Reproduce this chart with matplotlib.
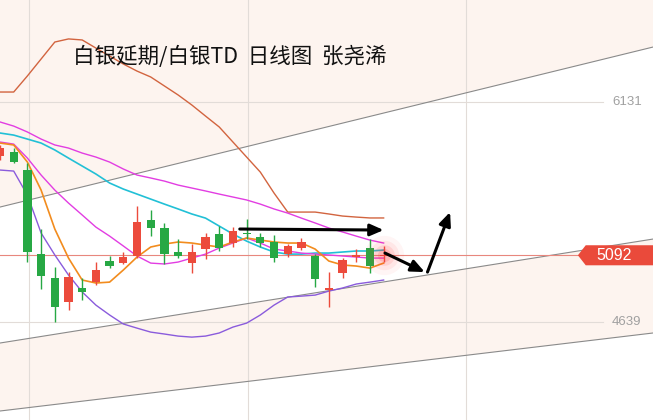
import matplotlib
matplotlib.use("Agg")
import matplotlib.pyplot as plt
from matplotlib.patches import Polygon
from matplotlib.transforms import blended_transform_factory

plt.rcParams['font.family'] = ['Noto Sans CJK SC', 'DejaVu Sans']

TITLE = "白银延期/白银TD  日线图  张尧浠"

# daily candles (price)
opens = [5765, 5792, 5670, 5100, 4938, 4775, 4870, 4910, 5053, 5039,
         5087, 5331, 5277, 5114, 5039, 5134, 5236, 5175, 5243, 5216,
         5182, 5100, 5141, 5087, 4856, 4972, 5080, 5141, 5085]
closes = [5819, 5724, 5114, 4951, 4741, 4944, 4843, 4992, 5019, 5080,
          5317, 5277, 5100, 5087, 5114, 5216, 5141, 5256, 5236, 5175,
          5073, 5155, 5182, 4931, 4870, 5060, 5094, 5019, 5092]
highs = [5840, 5819, 5718, 5270, 5012, 4978, 4938, 5046, 5087, 5114,
         5426, 5399, 5311, 5202, 5168, 5243, 5290, 5283, 5338, 5243,
         5229, 5168, 5209, 5100, 4978, 5073, 5134, 5202, 5155]
lows = [5738, 5718, 5046, 4863, 4639, 4721, 4788, 4890, 5005, 5033,
        5073, 5222, 5033, 5073, 4972, 5066, 5121, 5148, 5202, 5148,
        5046, 5080, 5127, 4877, 4741, 4938, 5046, 4972, 5046]

# Bollinger bands and moving averages
boll_upper = [6199, 6199, 6308, 6423, 6538, 6559, 6552, 6497, 6443, 6389,
              6341, 6301, 6240, 6179, 6111, 6036, 5962, 5860, 5758, 5656,
              5514, 5385, 5385, 5385, 5372, 5358, 5351, 5345, 5345]
boll_mid = [5860, 5846, 5751, 5636, 5534, 5446, 5365, 5283, 5222, 5155,
            5087, 5039, 5033, 5046, 5073, 5100, 5141, 5175, 5209, 5175,
            5134, 5121, 5107, 5100, 5094, 5087, 5080, 5073, 5073]
boll_lower = [5670, 5663, 5500, 5243, 5094, 4958, 4843, 4754, 4687, 4626,
              4598, 4571, 4558, 4544, 4537, 4544, 4565, 4605, 4632, 4687,
              4754, 4809, 4815, 4822, 4849, 4870, 4897, 4910, 4924]
ma5 = [5853, 5840, 5724, 5534, 5270, 5073, 4924, 4904, 4910, 4992,
       5080, 5148, 5168, 5182, 5175, 5161, 5148, 5182, 5209, 5195,
       5182, 5175, 5175, 5134, 5053, 5026, 5019, 5005, 5039]
ma_cyan = [5921, 5907, 5880, 5853, 5806, 5751, 5697, 5643, 5582, 5541,
           5507, 5473, 5439, 5406, 5372, 5344, 5290, 5236, 5188, 5148,
           5114, 5100, 5100, 5107, 5107, 5114, 5121, 5121, 5127]
ma_magenta = [5996, 5968, 5928, 5880, 5840, 5819, 5785, 5758, 5724, 5677,
              5636, 5616, 5595, 5568, 5548, 5528, 5507, 5487, 5467, 5439,
              5406, 5378, 5344, 5311, 5277, 5250, 5222, 5195, 5175]

# trend channel lines: price at left edge / right edge
chan_x = [0, 47.66]
chan_upper = [5419, 6504]
chan_lower = [4497, 5202]
chan_bottom = [4036, 4565]

last_price = 5092
level_labels = [6131, 4639]

# hand-drawn arrows: (x0, y0, x1, y1)
arrows = [(17.5, 5270, 28.0, 5263),
          (28.1, 5107, 31.0, 4978),
          (31.2, 4978, 32.85, 5385)]

RED = "#ec4b3c"
GREEN = "#27a844"
PINK = "#fdf4ef"

fig = plt.figure(figsize=(6.53, 4.2), dpi=100)
ax = fig.add_axes([0, 0, 1, 1])
ax.set_xlim(0, 47.66)
ax.set_ylim(3975, 6823)
ax.axis("off")

# shaded zones of the channel
ax.fill_between(chan_x, chan_upper, 6823, color=PINK, lw=0, zorder=0)
ax.fill_between(chan_x, chan_bottom, chan_lower, color=PINK, lw=0, zorder=0)

# grid
for v in [2.12, 18.1, 34.0]:
    ax.axvline(v, color="#e2dcd8", lw=0.8, zorder=1)
tr = blended_transform_factory(ax.transAxes, ax.transData)
for lv in level_labels:
    ax.plot([0, 0.923], [lv, lv], transform=tr, color="#e2dcd8", lw=0.8, zorder=1)
    ax.text(0.96, lv, str(lv), transform=tr, ha="center", va="center",
            fontsize=9.5, color="#a0a0a0", family="Liberation Sans", zorder=5)

for ys in (chan_upper, chan_lower, chan_bottom):
    ax.plot(chan_x, ys, color="#8a8a8a", lw=0.8, zorder=2)

# current price line
ax.plot([0, 0.9], [last_price, last_price], transform=tr, color="#e8877e",
        lw=0.8, zorder=2)

idx = list(range(len(opens)))
ax.plot(idx, boll_upper, color="#d2643f", lw=1.0, zorder=3)
ax.plot(idx, ma_magenta, color="#e23de2", lw=1.0, zorder=3)
ax.plot(idx, ma_cyan, color="#22c0d6", lw=1.2, zorder=3)
ax.plot(idx, boll_mid, color="#e23de2", lw=1.0, zorder=3)
ax.plot(idx, boll_lower, color="#8a5bdc", lw=1.0, zorder=3)
ax.plot(idx, ma5, color="#f28c1e", lw=1.2, zorder=3)

# candles
for i in idx:
    o, c, h, l = opens[i], closes[i], highs[i], lows[i]
    col = RED if c >= o else GREEN
    ax.vlines(i, l, h, color=col, lw=1.0, zorder=4)
    ax.bar(i, max(abs(c - o), 8), bottom=min(o, c), width=0.6, color=col,
           lw=0, zorder=4)

# glow on the last candle
for s, a in [(800, 0.05), (450, 0.08), (220, 0.12), (90, 0.18)]:
    ax.scatter([idx[-1]], [last_price], s=s, color="#ff3b3b", alpha=a,
               lw=0, zorder=5)

for x0, y0, x1, y1 in arrows:
    ax.annotate("", xy=(x1, y1), xytext=(x0, y0),
                arrowprops=dict(arrowstyle="-|>,head_length=0.8,head_width=0.35",
                                color="black", lw=2.2, shrinkA=0, shrinkB=0),
                zorder=6)

# price tag on the right
tag = Polygon([(0.885, last_price), (0.897, last_price + 68), (1.0, last_price + 68),
               (1.0, last_price - 68), (0.897, last_price - 68)],
              closed=True, transform=tr, facecolor="#ea4a3b", edgecolor="none",
              zorder=6)
ax.add_patch(tag)
ax.text(0.941, last_price, str(last_price), transform=tr, ha="center",
        va="center", fontsize=11.5, color="white", family="Liberation Sans",
        zorder=7)

ax.text(0.112, 0.865, TITLE, transform=ax.transAxes, fontsize=15.5,
        color="#111111", ha="left", va="center", zorder=7)

fig.savefig("out.png", dpi=100)
